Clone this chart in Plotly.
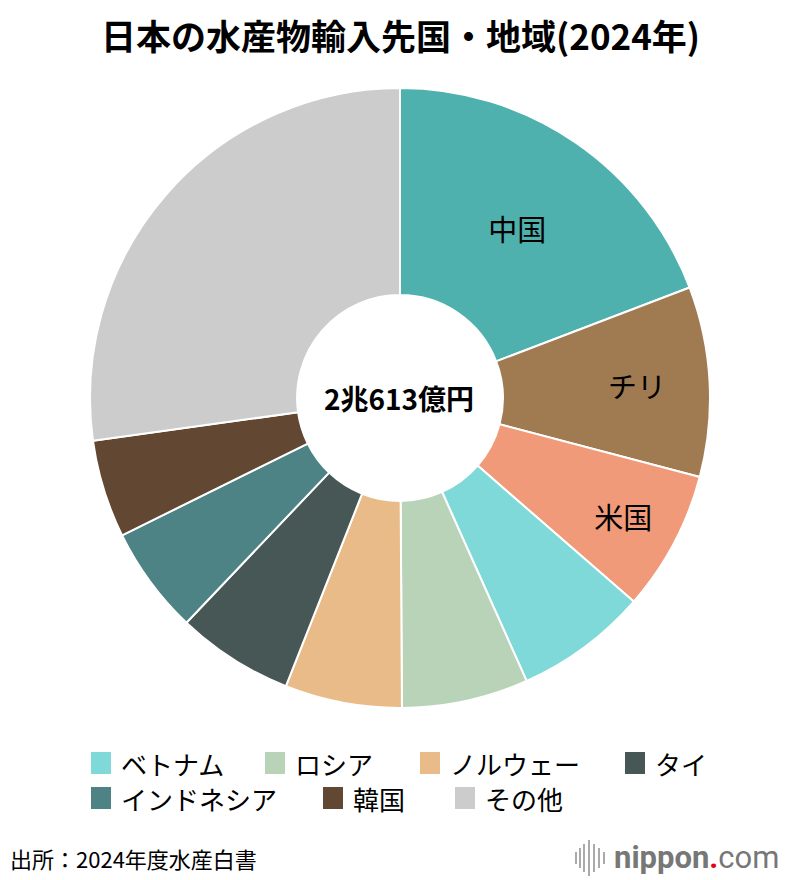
import plotly.graph_objects as go

# ---- data (億円; total 2兆613億円) ----
labels = ["中国", "チリ", "米国", "ベトナム", "ロシア", "ノルウェー", "タイ", "インドネシア", "韓国", "その他"]
values = [3958, 2041, 1505, 1422, 1360, 1257, 1257, 1154, 1051, 5608]
inside_labels = ["中国", "チリ", "米国", "", "", "", "", "", "", ""]
colors = ["#4fb1ad", "#a07b52", "#f09a7a", "#7fd9d9", "#b9d3b9",
          "#e8bb88", "#475755", "#4d8384", "#624732", "#cccccc"]
legend_items = ["ベトナム", "ロシア", "ノルウェー", "タイ", "インドネシア", "韓国", "その他"]
title_text = "日本の水産物輸入先国・地域(2024年)"
center_text = "2兆613億円"
source_text = "出所：2024年度水産白書"

FONT = "Noto Sans CJK JP"
W, H = 800, 880
OFF = 8  # browser page margin


def px(x):
    return (x - OFF) / W


def py(y):
    return 1 - (y - OFF) / H


CX, CY, R = 400, 398, 310

fig = go.Figure()
fig.add_trace(go.Pie(
    labels=labels, values=values, text=inside_labels,
    textinfo="text", textposition="inside", insidetextorientation="horizontal",
    insidetextfont=dict(family=FONT, size=29, color="black"),
    marker=dict(colors=colors, line=dict(color="white", width=2)),
    hole=0.332, sort=False, direction="clockwise", rotation=0,
    showlegend=False, hoverinfo="label+value",
    domain=dict(x=[px(CX - R), px(CX + R)],
                y=[py(CY + R), py(CY - R)]),
))

annotations = [
    dict(text="<b>" + title_text + "</b>", x=px(400), y=py(35), xref="paper", yref="paper",
         showarrow=False, font=dict(family=FONT, size=35, color="black"),
         xanchor="center", yanchor="middle"),
    dict(text="<b>" + center_text + "</b>", x=px(399), y=py(398), xref="paper", yref="paper",
         showarrow=False, font=dict(family=FONT, size=28, color="black"),
         xanchor="center", yanchor="middle"),
    dict(text=source_text, x=px(8), y=py(858), xref="paper", yref="paper",
         showarrow=False, font=dict(family=FONT, size=22, color="black"),
         xanchor="left", yanchor="middle"),
    dict(text="<b>nippon</b><span style='color:#e60012'><b>.</b></span>com",
         x=px(612), y=py(857), xref="paper", yref="paper",
         showarrow=False, font=dict(family="Roboto", size=31, color="#777777"),
         xanchor="left", yanchor="middle"),
]

shapes = []
# logo bars
bar_x = [576, 580, 584, 589, 594, 599, 604]
bar_h = [6, 10, 14, 18, 14, 10, 6]
for bx, bh in zip(bar_x, bar_h):
    shapes.append(dict(type="line", xref="paper", yref="paper",
                       x0=px(bx), x1=px(bx), y0=py(858 - bh), y1=py(858 + bh),
                       line=dict(color="#aaaaaa", width=2)))

# manual legend (layout positions)
legend_pos = [(91, 763), (265, 763), (420, 763), (625, 763),
              (91, 798), (323, 798), (455, 798)]
for name, (lx, ly) in zip(legend_items, legend_pos):
    c = colors[labels.index(name)]
    shapes.append(dict(type="rect", xref="paper", yref="paper",
                       x0=px(lx), x1=px(lx + 20), y0=py(ly - 11), y1=py(ly + 11),
                       fillcolor=c, line=dict(width=0)))
    annotations.append(dict(text=name, x=px(lx + 28), y=py(ly), xref="paper", yref="paper",
                            showarrow=False, font=dict(family=FONT, size=26, color="black"),
                            xanchor="left", yanchor="middle"))

fig.update_layout(
    width=W, height=H, margin=dict(l=0, r=0, t=0, b=0),
    paper_bgcolor="white", plot_bgcolor="white",
    annotations=annotations, shapes=shapes,
    font=dict(family=FONT),
)

fig.write_html("out.html")
